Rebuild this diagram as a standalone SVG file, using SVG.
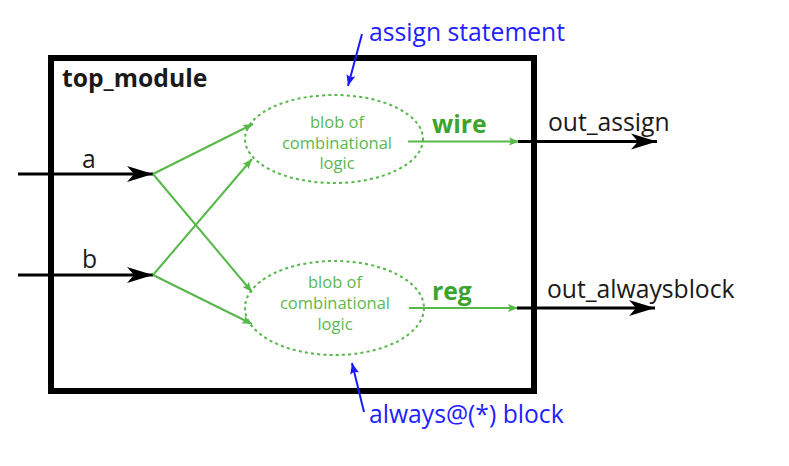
<svg xmlns="http://www.w3.org/2000/svg" width="789" height="466" viewBox="0 0 789 466">
<defs>
<style>
.lbl{font-family:"Open Sans","Noto Sans","DejaVu Sans",sans-serif;}
.blk{fill:#1a1a1a;font-size:24.7px;}
.blue{fill:#2222ff;font-size:24.7px;}
.gtxt{fill:#5cb84e;font-size:16.5px;text-anchor:middle;}
.gbold{fill:#3da32f;font-size:24.7px;font-weight:bold;}
.wireB{stroke:#000;stroke-width:3;fill:none;}
.wireG{stroke:#55b848;stroke-width:2;fill:none;}
.blob{stroke:#55b848;stroke-width:2;fill:none;stroke-dasharray:3 3.2;}
.wireBl{stroke:#1a1aff;stroke-width:2;fill:none;}
</style>
<marker id="ab" markerUnits="userSpaceOnUse" markerWidth="30" markerHeight="20" refX="26" refY="8" orient="auto" viewBox="0 0 30 16">
<path d="M0,0 L26,8 L0,16 L7,8 Z" fill="#000"/>
</marker>
<marker id="ag" markerUnits="userSpaceOnUse" markerWidth="12" markerHeight="10" refX="10" refY="4" orient="auto" viewBox="0 0 12 8">
<path d="M0,0 L10,4 L0,8 L2,4 Z" fill="#55b848"/>
</marker>
<marker id="abl" markerUnits="userSpaceOnUse" markerWidth="12" markerHeight="10" refX="11" refY="4.5" orient="auto" viewBox="0 0 12 9">
<path d="M0,0 L11,4.5 L0,9 L2,4.5 Z" fill="#1a1aff"/>
</marker>
</defs>
<rect width="789" height="466" fill="#fff"/>
<g id="top_module">
<rect x="51" y="58" width="483" height="333" fill="none" stroke="#000" stroke-width="6"/>
<text class="lbl" x="62" y="87" font-size="24.7" font-weight="bold" fill="#1a1a1a">top_module</text>
</g>
<g id="blob_assign">
<ellipse class="blob" cx="334" cy="139" rx="89" ry="44"/>
<text class="lbl gtxt" x="337" y="128">blob of</text>
<text class="lbl gtxt" x="337" y="149">combinational</text>
<text class="lbl gtxt" x="337" y="169">logic</text>
</g>
<g id="blob_always">
<ellipse class="blob" cx="334.5" cy="308" rx="89.5" ry="47"/>
<text class="lbl gtxt" x="335" y="288">blob of</text>
<text class="lbl gtxt" x="335" y="309">combinational</text>
<text class="lbl gtxt" x="335" y="330">logic</text>
</g>
<g id="connectors">
<line class="wireB" x1="18" y1="174" x2="153" y2="174" marker-end="url(#ab)"/>
<line class="wireB" x1="18" y1="275" x2="153" y2="275" marker-end="url(#ab)"/>
<line class="wireG" x1="153" y1="174" x2="253" y2="124" marker-end="url(#ag)"/>
<line class="wireG" x1="153" y1="174" x2="252" y2="292" marker-end="url(#ag)"/>
<line class="wireG" x1="153" y1="275" x2="252" y2="159" marker-end="url(#ag)"/>
<line class="wireG" x1="153" y1="275" x2="252" y2="324" marker-end="url(#ag)"/>
<line class="wireG" x1="408" y1="141.5" x2="519" y2="141.5" marker-end="url(#ag)"/>
<line class="wireG" x1="409" y1="308" x2="518" y2="308" marker-end="url(#ag)"/>
<line class="wireB" x1="518" y1="141.5" x2="657" y2="141.5" marker-end="url(#ab)"/>
<line class="wireB" x1="517" y1="308" x2="655" y2="308" marker-end="url(#ab)"/>
<line class="wireBl" x1="362" y1="34" x2="348" y2="86" marker-end="url(#abl)"/>
<line class="wireBl" x1="364" y1="412" x2="352" y2="363" marker-end="url(#abl)"/>
<text class="lbl blk" x="82" y="168">a</text>
<text class="lbl blk" x="82" y="268">b</text>
<text class="lbl gbold" x="432" y="133">wire</text>
<text class="lbl gbold" x="432" y="300">reg</text>
<text class="lbl blk" x="548" y="131">out_assign</text>
<text class="lbl blk" x="547" y="298">out_alwaysblock</text>
</g>
<g id="annotations">
<text class="lbl blue" x="369" y="41">assign statement</text>
<text class="lbl blue" x="369" y="423">always@(*) block</text>
</g>
</svg>
